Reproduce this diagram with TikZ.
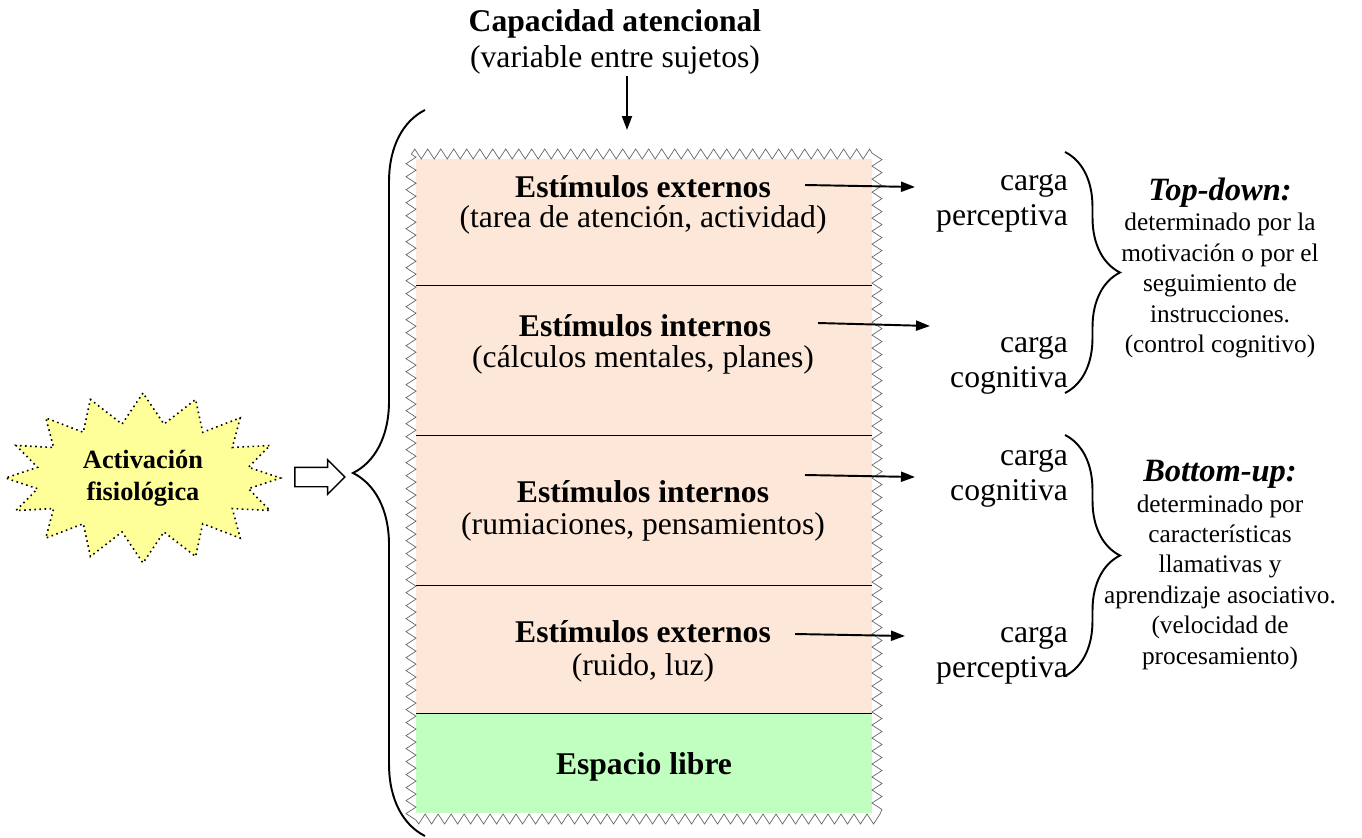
\documentclass[tikz,border=0pt]{standalone}
\usepackage{fontspec}
\setmainfont{Liberation Serif}
\usetikzlibrary{shapes,arrows,positioning,calc,decorations.pathmorphing,decorations.pathreplacing,arrows.meta}
\definecolor{peach}{RGB}{252,231,216}
\definecolor{mint}{RGB}{192,255,192}
\definecolor{lemon}{RGB}{255,255,153}

\begin{document}
\begin{tikzpicture}[x=0.02cm, y=-0.02cm,
    txt/.style={align=center, inner sep=1pt, font=\fontsize{18}{20.2}\selectfont},
    head/.style={inner sep=1pt, font=\fontsize{18}{20.2}\selectfont\bfseries},
    carga/.style={anchor=east, align=right, inner sep=1pt, font=\fontsize{18}{20}\selectfont},
    note/.style={align=center, inner sep=1pt, font=\fontsize{14.4}{17.3}\selectfont},
    arr/.style={-{Triangle[length=0.28cm,width=0.2cm]}, line width=1.1pt},
    curly/.style={decorate, decoration={brace, amplitude=#1}, line width=1.1pt}]
    \useasboundingbox (0,0) rectangle (1362,838);

    % attention box
    \fill[peach] (416,159) rectangle (872,713);
    \fill[mint] (416,713) rectangle (872,813);
    \draw[black!60, decorate, decoration={zigzag, segment length=0.26cm, amplitude=0.1cm}] (411,154) rectangle (877,819);
    \foreach \y in {285,435,585,713} \draw (416,\y) -- (872,\y);

    \node[txt] (cap) at (615,42) {\textbf{Capacidad atencional}\\(variable entre sujetos)};
    \coordinate (boxtop) at (627,130);
    \draw[arr] (cap.south -| boxtop) -- (boxtop);

    \node[head] (t1) at (643,187) {Estímulos externos};
    \node[txt] (s1) at (643,220) {(tarea de atención, actividad)};
    \node[head] (t2) at (645,326) {Estímulos internos};
    \node[txt] (s2) at (643,360) {(cálculos mentales, planes)};
    \node[head] (t3) at (643,492) {Estímulos internos};
    \node[txt] (s3) at (643,527) {(rumiaciones, pensamientos)};
    \node[head] (t4) at (643,632) {Estímulos externos};
    \node[txt] (s4) at (643,668) {(ruido, luz)};
    \node[head] (free) at (644,767) {Espacio libre};

    % cargas
    \node[carga] (c1) at (1070,203) {carga\\perceptiva};
    \node[carga] (c2) at (1070,365) {carga\\cognitiva};
    \node[carga] (c3) at (1070,478) {carga\\cognitiva};
    \node[carga] (c4) at (1070,655) {carga\\perceptiva};

    \coordinate (p1) at (805,185); \coordinate (q1) at (915,187);
    \coordinate (p2) at (818,323); \coordinate (q2) at (930,326);
    \coordinate (p3) at (805,475); \coordinate (q3) at (915,477);
    \coordinate (p4) at (795,634); \coordinate (q4) at (905,636);
    \draw[arr] (p1) -- (q1);
    \draw[arr] (p2) -- (q2);
    \draw[arr] (p3) -- (q3);
    \draw[arr] (p4) -- (q4);

    % braces
    \draw[curly=1.44cm] (425,836) -- (425,110);
    \draw[curly=1.1cm] (1065,152) -- (1065,393);
    \draw[curly=1.1cm] (1065,435) -- (1065,676);

    \node[note] (td) at (1220,268) {{\fontsize{18.5}{20}\selectfont\textbf{\textit{Top-down:}}}\\determinado por la\\motivación o por el\\seguimiento de\\instrucciones.\\(control cognitivo)};
    \node[note] (bu) at (1220,565) {{\fontsize{18.5}{20}\selectfont\textbf{\textit{Bottom-up:}}}\\determinado por\\características\\llamativas y\\aprendizaje asociativo.\\(velocidad de\\procesamiento)};

    % activation
    \node[starburst, draw, dotted, line width=0.9pt, fill=lemon, starburst points=16, random starburst=0,
        starburst point height=0.6cm, minimum width=5.5cm, minimum height=3.4cm, align=center,
        font=\fontsize{15}{18}\selectfont\bfseries] (act) at (143,478) {Activación\\fisiológica};
    \node[single arrow, draw, thick, fill=white, minimum height=1cm, inner sep=0.18cm,
        single arrow head extend=0.15cm] (push) at (315,477) {};
\end{tikzpicture}
\end{document}
